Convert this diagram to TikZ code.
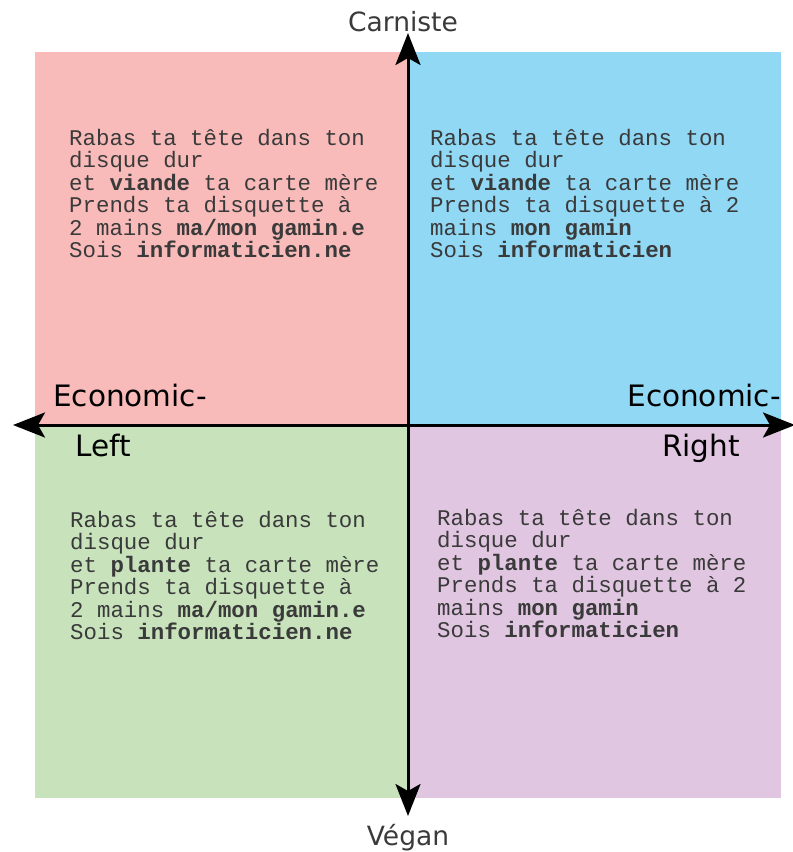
\documentclass[tikz,border=0pt]{standalone}
\usepackage{fontspec}
\setmainfont{DejaVu Sans}
\setmonofont{Liberation Mono}
\usetikzlibrary{arrows.meta}
\definecolor{qpink}{HTML}{F8BBBA}
\definecolor{qblue}{HTML}{91D8F5}
\definecolor{qgreen}{HTML}{C8E3BC}
\definecolor{qpurple}{HTML}{E0C6E0}
\definecolor{txtgray}{HTML}{3A3A3A}
\tikzset{
  quadtext/.style={anchor=base west, inner sep=0pt, align=left, text=txtgray,
    font=\ttfamily\fontsize{22.4}{22.5}\selectfont},
  axlabel/.style={inner sep=0pt, font=\fontsize{29.5}{32}\selectfont, text=black},
  poletext/.style={inner sep=0pt, font=\fontsize{26.5}{30}\selectfont, text=txtgray},
  axisarrow/.style={line width=3pt, -{Stealth[length=32pt,width=25pt,inset=7pt]}},
}
\begin{document}
\begin{tikzpicture}[x=1pt,y=-1pt]
\useasboundingbox (0,0) rectangle (793,852);
\fill[qpink] (35,52) rectangle (408,425);
\fill[qblue] (408,52) rectangle (781,425);
\fill[qgreen] (35,425) rectangle (408,798);
\fill[qpurple] (408,425) rectangle (781,798);

\coordinate (center) at (408,425);
\coordinate (west) at (13,425);
\coordinate (east) at (795,425);
\coordinate (north) at (408,33);
\coordinate (south) at (408,816);
\draw[axisarrow] (center) -- (west);
\draw[axisarrow] (center) -- (east);
\draw[axisarrow] (center) -- (north);
\draw[axisarrow] (center) -- (south);

% anchor = baseline of the last line
\node[quadtext] (tl) at (69,257.5) {Rabas ta tête dans ton\\disque dur\\et \textbf{viande} ta carte mère\\Prends ta disquette à\\2 mains \textbf{ma/mon gamin.e}\\Sois \textbf{informaticien.ne}};
\node[quadtext] (tr) at (430,257.5) {Rabas ta tête dans ton\\disque dur\\et \textbf{viande} ta carte mère\\Prends ta disquette à 2\\mains \textbf{mon gamin}\\Sois \textbf{informaticien}};
\node[quadtext] (bl) at (70,639.5) {Rabas ta tête dans ton\\disque dur\\et \textbf{plante} ta carte mère\\Prends ta disquette à\\2 mains \textbf{ma/mon gamin.e}\\Sois \textbf{informaticien.ne}};
\node[quadtext] (br) at (437,637.5) {Rabas ta tête dans ton\\disque dur\\et \textbf{plante} ta carte mère\\Prends ta disquette à 2\\mains \textbf{mon gamin}\\Sois \textbf{informaticien}};

\node[axlabel, anchor=west] (ecl) at (53,395) {Economic-};
\node[axlabel, anchor=west] (left) at (75,445) {Left};
\node[axlabel, anchor=east] (ecr) at (781,395) {Economic-};
\node[axlabel, anchor=east] (right) at (740,448) {Right};
\node[poletext] (carn) at (403,22) {Carniste};
\node[poletext] (vegan) at (408,838) {Végan};
\end{tikzpicture}
\end{document}
